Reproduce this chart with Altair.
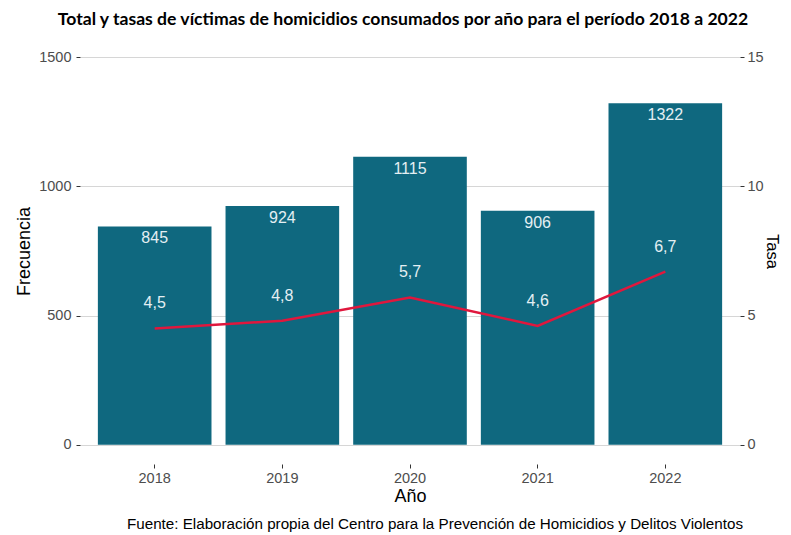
import altair as alt
import pandas as pd

years = ["2018", "2019", "2020", "2021", "2022"]
counts = [845, 924, 1115, 906, 1322]
rates = [4.5, 4.8, 5.7, 4.6, 6.7]
rate_labels = ["4,5", "4,8", "5,7", "4,6", "6,7"]
title_text = "Total y tasas de víctimas de homicidios consumados por año para el período 2018 a 2022"
caption_text = "Fuente: Elaboración propia del Centro para la Prevención de Homicidios y Delitos Violentos"

df = pd.DataFrame({"Año": years, "Frecuencia": counts, "Tasa": rates, "TasaLab": rate_labels})
cap = pd.DataFrame({"t": [caption_text]})

FONT = "Liberation Sans"
BAR = "#0f687f"
LBL = "#e4eff3"
W, H = 660, 426

x = alt.X("Año:N", title="Año",
          scale=alt.Scale(paddingInner=0.11, paddingOuter=0.14),
          axis=alt.Axis(labelAngle=0, labelFontSize=14.5, labelColor="#4d4d4d", labelFont=FONT,
                        titleFont=FONT, titleFontSize=18, titleFontWeight="normal", titleColor="black",
                        tickColor="#333333", tickSize=4, domain=False, labelPadding=3, titlePadding=3,
                        grid=False))

ysc = alt.Scale(domain=[-75, 1575], nice=False, zero=False)
tsc = alt.Scale(domain=[-0.75, 15.75], nice=False, zero=False)

yL = alt.Y("Frecuencia:Q", scale=ysc,
           axis=alt.Axis(values=[0, 500, 1000, 1500], orient="left", title="Frecuencia", format="d",
                         labelFontSize=14.5, labelColor="#4d4d4d", labelFont=FONT,
                         titleFont=FONT, titleFontSize=18, titleFontWeight="normal", titleColor="black",
                         tickColor="#333333", tickSize=4, domain=False, labelPadding=5, titlePadding=5,
                         grid=True, gridColor="#d6d6d6", gridWidth=1))
yR = alt.Y("Tasa:Q", scale=tsc,
           axis=alt.Axis(values=[0, 5, 10, 15], orient="right", title="Tasa", format="d",
                         labelFontSize=14.5, labelColor="#4d4d4d", labelFont=FONT,
                         titleFont=FONT, titleFontSize=16.5, titleFontWeight="normal", titleColor="black",
                         tickColor="#333333", tickSize=4, domain=False, labelPadding=3, titlePadding=0,
                         grid=False))

base = alt.Chart(df)
bars = base.mark_bar(color=BAR).encode(x=x, y=yL, y2=alt.datum(0))
count_txt = base.mark_text(color=LBL, font=FONT, fontSize=16, baseline="middle", dy=12).encode(
    x=x, y=yL, text="Frecuencia:Q")
caption = alt.Chart(cap).mark_text(font=FONT, fontSize=15.2, color="black", align="right",
                                   baseline="middle").encode(
    x=alt.value(W + 3), y=alt.value(486), text="t:N")

line = base.mark_line(color="#e0173d", strokeWidth=2.5).encode(x=x, y=yR)
rate_txt = base.mark_text(color=LBL, font=FONT, fontSize=16, baseline="middle", dy=-25).encode(
    x=x, y=yR, text="TasaLab:N")

chart = alt.layer(
    alt.layer(bars, count_txt, caption),
    alt.layer(line, rate_txt),
).resolve_scale(y="independent").properties(
    width=W, height=H,
    title=alt.Title(title_text, font="Lato", fontSize=17.6, fontWeight="bold", color="black",
                    anchor="middle", dx=-7, offset=9),
    autosize=alt.AutoSizeParams(type="none"),
    padding={"left": 72, "top": 30, "right": 43, "bottom": 70},
    background="white",
).configure_view(stroke=None)

chart.save("out.html", embed_options={"renderer": "svg", "actions": False})
